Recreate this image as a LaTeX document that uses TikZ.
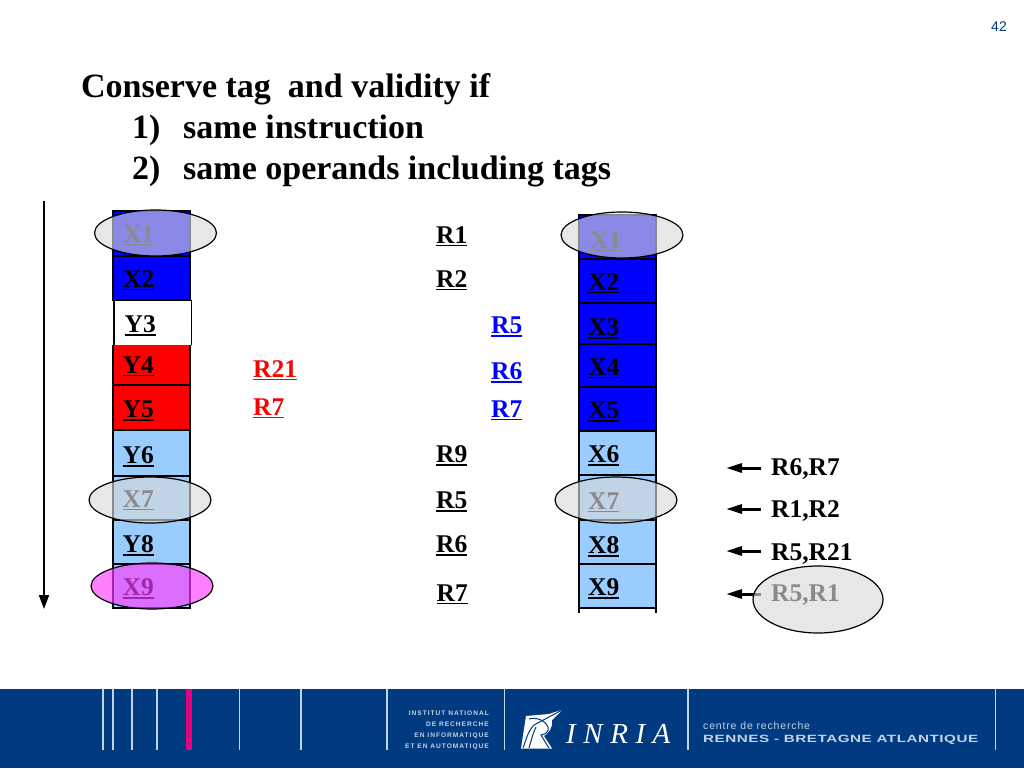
\documentclass[tikz,border=0pt]{standalone}
\usepackage{fontspec}
\setmainfont{Liberation Serif}
\newfontfamily\sansfont{Liberation Sans}
\newfontfamily\widefont[FakeStretch=1.45,LetterSpace=5]{Liberation Sans}
\newfontfamily\capsfont[LetterSpace=15]{Liberation Sans}
\usetikzlibrary{positioning}
\usetikzlibrary{arrows.meta}
\usetikzlibrary{shapes.geometric}
\definecolor{inriablue}{HTML}{003A80}
\definecolor{inrialine}{HTML}{C4D2E6}
\definecolor{inriapink}{HTML}{E6007E}
\definecolor{lightcell}{HTML}{99CCFF}
\definecolor{ovalgray}{HTML}{D9D9D9}
\definecolor{ovalpink}{HTML}{FF3CFF}
\newcommand{\ulbl}[1]{\vtop{\hbox{#1}\kern2pt\hrule height 1.4pt}}

\begin{document}
\begin{tikzpicture}[x=1pt, y=-1pt,
    cell/.style={draw, line width=2pt, minimum width=77pt, inner sep=0pt, outer sep=0pt},
    reg/.style={font=\fontsize{25.5}{30}\selectfont\bfseries, inner sep=0pt, anchor=base west},
    headline/.style={font=\fontsize{34}{38}\selectfont\bfseries, inner sep=0pt, anchor=base west},
    oval/.style={draw, ellipse, line width=1.2pt, fill=ovalgray, fill opacity=0.64, inner sep=0pt},
    bar/.style={inrialine, line width=1.3pt},
    capsline/.style={text=inrialine, font=\fontsize{6.6}{8}\capsfont\bfseries, inner sep=0pt, anchor=base east},
    smallarrow/.style={-{Triangle[width=9pt,length=16pt]}, line width=3pt}]
    \useasboundingbox (0,0) rectangle (1024,768);

    % title
    \node[inner sep=0pt, anchor=base east, text=inriablue, font=\fontsize{14}{16}\sansfont] (page) at (1007,32) {42};
    \node[headline] (t1) at (81,97) {Conserve tag\ \ and validity if};
    \node[headline] (n1) at (132,138) {1)};
    \node[headline] (t2) at (183,138) {same instruction};
    \node[headline] (n2) at (132,179) {2)};
    \node[headline] (t3) at (183,179) {same operands including tags};

    % left column
    \node[cell, fill=blue, minimum height=45pt] (l1) at (151.5,233.5) {};
    \node[cell, fill=blue, minimum height=44pt] (l2) at (151.5,278) {};
    \node[cell, fill=red, draw=none, minimum height=40pt] (l4) at (151.5,365) {};
    \draw[line width=2pt] (l4.north west) -- (l4.south west);
    \draw[line width=2pt] (l4.north east) -- (l4.south east);
    \node[cell, fill=white, draw=none, minimum height=45pt] (l3) at (152.5,322.5) {};
    \draw[line width=2pt] (l3.north west) -- (l3.north east);
    \draw[line width=2pt] (l3.north west) -- (l3.south west);
    \draw[line width=1pt] (l3.north east) -- (l3.south east);
    \node[cell, fill=red, minimum height=45pt] (l5) at (151.5,407.5) {};
    \node[cell, fill=lightcell, minimum height=46pt] (l6) at (151.5,453) {};
    \node[cell, fill=lightcell, minimum height=44pt] (l7) at (151.5,498) {};
    \node[cell, fill=lightcell, minimum height=44pt] (l8) at (151.5,542) {};
    \node[cell, fill=lightcell, minimum height=44pt] (l9) at (151.5,586) {};
    \node[reg] (lx1) at (123,242) {\ulbl{X1}};
    \node[reg] (lx2) at (123,287) {\ulbl{X2}};
    \node[reg] (ly3) at (124.5,332) {\ulbl{Y3}};
    \node[reg] (ly4) at (122.5,373) {\ulbl{Y4}};
    \node[reg] (ly5) at (122.5,417) {\ulbl{Y5}};
    \node[reg] (ly6) at (122.5,463) {\ulbl{Y6}};
    \node[reg] (lx7) at (122.5,507) {\ulbl{X7}};
    \node[reg] (ly8) at (122.5,552) {\ulbl{Y8}};
    \node[reg] (lx9) at (122.5,595) {\ulbl{X9}};

    % right column
    \node[cell, fill=blue, minimum height=44pt] (r1) at (617.5,237) {};
    \node[cell, fill=blue, minimum height=44pt] (r2) at (617,281) {};
    \node[cell, fill=blue, minimum height=41pt] (r3) at (617,323.5) {};
    \node[cell, fill=blue, minimum height=43pt] (r4) at (617,365.5) {};
    \node[cell, fill=blue, minimum height=44pt] (r5) at (617,409) {};
    \node[cell, fill=lightcell, minimum height=44pt] (r6) at (617,453) {};
    \node[cell, fill=lightcell, minimum height=45pt] (r7) at (617,497.5) {};
    \node[cell, fill=lightcell, minimum height=44pt] (r8) at (617,542) {};
    \node[cell, fill=lightcell, minimum height=44pt] (r9) at (617,586) {};
    \coordinate (r9a) at ([yshift=-5pt]r9.south west);
    \coordinate (r9b) at ([yshift=-5pt]r9.south east);
    \draw[line width=2pt] (r9.south west) -- (r9a);
    \draw[line width=2pt] (r9.south east) -- (r9b);
    \node[reg] (rx1) at (590,248) {\ulbl{X1}};
    \node[reg] (rx2) at (588,290) {\ulbl{X2}};
    \node[reg] (rx3) at (588,335) {\ulbl{X3}};
    \node[reg] (rx4) at (588,375) {\ulbl{X4}};
    \node[reg] (rx5) at (588,418) {\ulbl{X5}};
    \node[reg] (rx6) at (588,462) {\ulbl{X6}};
    \node[reg] (rx7) at (588,509) {\ulbl{X7}};
    \node[reg] (rx8) at (588,553) {\ulbl{X8}};
    \node[reg] (rx9) at (588,595) {\ulbl{X9}};

    % registers
    \node[reg, text=red] (a21) at (253,377) {\ulbl{R21}};
    \node[reg, text=red] (a7) at (253,415) {\ulbl{R7}};
    \node[reg] (b1) at (436,243) {\ulbl{R1}};
    \node[reg] (b2) at (436,287) {\ulbl{R2}};
    \node[reg, text=blue] (c5) at (491,333) {\ulbl{R5}};
    \node[reg, text=blue] (c6) at (491,379) {\ulbl{R6}};
    \node[reg, text=blue] (c7) at (491,417) {\ulbl{R7}};
    \node[reg] (b9) at (436,462) {\ulbl{R9}};
    \node[reg] (b5) at (436,508) {\ulbl{R5}};
    \node[reg] (b6) at (436,552) {\ulbl{R6}};
    \node[reg] (b7) at (436.5,601) {\ulbl{R7}};

    % arrows on the right
    \node[reg] (d1) at (771,475) {R6,R7};
    \node[reg] (d2) at (771,517) {R1,R2};
    \node[reg] (d3) at (771,560) {R5,R21};
    \node[reg] (d4) at (771,601) {R5,R1};
    \coordinate (e1) at (726,468);
    \coordinate (e2) at (726,509);
    \coordinate (e3) at (726,551);
    \coordinate (e4) at (726,594);
    \coordinate (f1) at (761,468);
    \coordinate (f2) at (761,509);
    \coordinate (f3) at (761,551);
    \coordinate (f4) at (761,594);
    \draw[smallarrow] (f1) -- (e1);
    \draw[smallarrow] (f2) -- (e2);
    \draw[smallarrow] (f3) -- (e3);
    \draw[smallarrow] (f4) -- (e4);

    % long arrow
    \coordinate (s) at (44,201);
    \coordinate (z) at (44,609);
    \draw[-{Triangle[width=10pt,length=14pt]}, line width=2pt] (s) -- (z);

    % ovals
    \node[oval, minimum width=122pt, minimum height=46pt] (o1) at (155.5,233) {};
    \node[oval, minimum width=122pt, minimum height=46pt] (o2) at (150,500) {};
    \node[oval, fill=ovalpink, fill opacity=0.65, minimum width=122pt, minimum height=46pt] (o3) at (152,586) {};
    \node[oval, minimum width=122pt, minimum height=46pt] (o4) at (622,235) {};
    \node[oval, minimum width=122pt, minimum height=46pt] (o5) at (616,500) {};
    \node[oval, minimum width=130pt, minimum height=67pt] (o6) at (818,599.5) {};

    % footer
    \fill[inriablue] (0,689) rectangle (1024,768);
    \draw[bar] (103,689) -- (103,750);
    \draw[bar] (113,689) -- (113,750);
    \draw[bar] (132,689) -- (132,750);
    \draw[bar] (157,689) -- (157,750);
    \draw[inriapink, line width=6pt] (189,689) -- (189,750);
    \draw[bar] (239.5,689) -- (239.5,750);
    \draw[bar] (301,689) -- (301,750);
    \draw[bar] (387,689) -- (387,750);
    \draw[bar] (504.5,689) -- (504.5,750);
    \draw[bar] (688,689) -- (688,750);
    \draw[bar] (995.5,689) -- (995.5,750);
    \node[capsline] (i1) at (489,715.5) {INSTITUT NATIONAL};
    \node[capsline] (i2) at (489,726.5) {DE RECHERCHE};
    \node[capsline] (i3) at (489,737.5) {EN INFORMATIQUE};
    \node[capsline] (i4) at (489,748.5) {ET EN AUTOMATIQUE};

    % logo
    \fill[white] (526,716) -- (549,714) -- (563,709.5) -- (552,720) .. controls (553,727) and (549,733) .. (544,736) -- (552,748.5) -- (521,748.5) -- cycle;
    \draw[inriablue, line width=1pt] (563,709.5) -- (534,725) .. controls (528,731) and (526,740) .. (523,748);
    \draw[inriablue, line width=1pt] (529,719) .. controls (536,717) and (545,720) .. (548,727) .. controls (549,732) and (546,734) .. (541,735) .. controls (544,740) and (547,745) .. (549,748);
    \draw[inriablue, line width=1pt] (536,727) .. controls (533,733) and (531,741) .. (529,748);
    \node[inner sep=0pt, anchor=base west, text=white, font=\fontsize{29}{32}\selectfont\itshape\addfontfeature{LetterSpace=26}] (inria) at (566,743) {INRIA};
    \node[inner sep=0pt, anchor=base west, text=inrialine, font=\fontsize{10.5}{12}\sansfont\addfontfeature{LetterSpace=8}] (c1) at (703,729) {centre de recherche};
    \node[inner sep=0pt, anchor=base west, text=inrialine, font=\fontsize{10.5}{12}\widefont\bfseries] (c2) at (703,742) {RENNES - BRETAGNE ATLANTIQUE};
\end{tikzpicture}
\end{document}
